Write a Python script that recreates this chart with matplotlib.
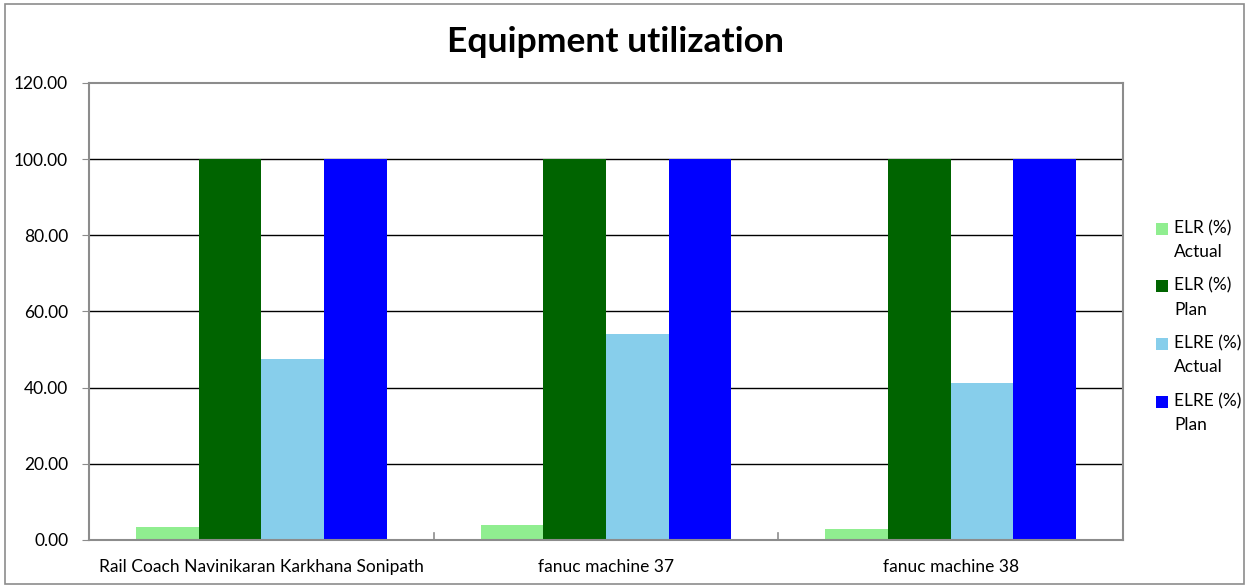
import numpy as np
import matplotlib
matplotlib.use('Agg')
import matplotlib.pyplot as plt
from matplotlib.patches import Rectangle
from matplotlib.legend_handler import HandlerPatch

categories = ['Rail Coach Navinikaran Karkhana Sonipath', 'fanuc machine 37', 'fanuc machine 38']
series_names = ['ELR (%)\nActual', 'ELR (%)\nPlan', 'ELRE (%)\nActual', 'ELRE (%)\nPlan']
elr_actual = [3.5, 3.95, 3.0]
elr_plan = [100.0, 100.0, 100.0]
elre_actual = [47.6, 54.2, 41.1]
elre_plan = [100.0, 100.0, 100.0]
colors = ['#90EE90', '#006400', '#87CEEB', '#0000FF']

plt.rcParams['font.family'] = ['Lato', 'DejaVu Sans']


def raised_square(legend, orig_handle, xdescent, ydescent, width, height, fontsize):
    # Excel puts the swatch next to the first line of a wrapped label
    return Rectangle((-xdescent, -ydescent + 8.5), width, height)


fig = plt.figure(figsize=(12.46, 5.86), dpi=100)
fig.patches.append(Rectangle((0.004, 0.003), 0.994, 0.99, transform=fig.transFigure,
                             fill=False, edgecolor='#8c8c8c', linewidth=1.2))
ax = fig.add_axes([0.0714, 0.0785, 0.8299, 0.7799])

x = np.arange(len(categories))
w = 0.727 / 4
all_series = [elr_actual, elr_plan, elre_actual, elre_plan]
for i, (vals, name, c) in enumerate(zip(all_series, series_names, colors)):
    ax.bar(x - 0.3635 + w * (i + 0.5), vals, width=w, color=c, label=name, zorder=3)

ax.set_xlim(-0.5, len(categories) - 0.5)
ax.set_ylim(0, 120)
ax.set_yticks(np.arange(0, 121, 20))
ax.set_yticklabels([f'{v:.2f}' for v in np.arange(0, 121, 20)], fontsize=12.5)
for v in range(20, 120, 20):
    ax.axhline(v, color='black', linewidth=1.0, zorder=1)

ax.set_xticks(x)
ax.set_xticklabels(categories, fontsize=12.5)
ax.tick_params(axis='x', length=0, pad=14)
ax.tick_params(axis='y', length=5, color='#8c8c8c', pad=10)
for sep in np.arange(0.5, len(categories) - 0.5):
    ax.plot([sep, sep], [0, 1.8], color='#8c8c8c', linewidth=1.2, zorder=4, clip_on=False)

for s in ax.spines.values():
    s.set_color('#8c8c8c')
    s.set_linewidth(1.5)
    s.set_zorder(5)

fig.text(0.4936, 0.928, 'Equipment utilization', ha='center', va='center',
         fontsize=25.5, fontweight='bold')

proxies = [Rectangle((0, 0), 1, 1, facecolor=c, edgecolor='none') for c in colors]
leg = ax.legend(proxies, series_names, loc='center left', bbox_to_anchor=(1.017, 0.467),
                frameon=False, fontsize=12.5, handlelength=0.7, handleheight=0.7,
                handletextpad=0.35, labelspacing=1.02,
                handler_map={Rectangle: HandlerPatch(patch_func=raised_square)})
for t in leg.get_texts():
    t.set_linespacing(1.6)

fig.savefig('out.png', dpi=100)
